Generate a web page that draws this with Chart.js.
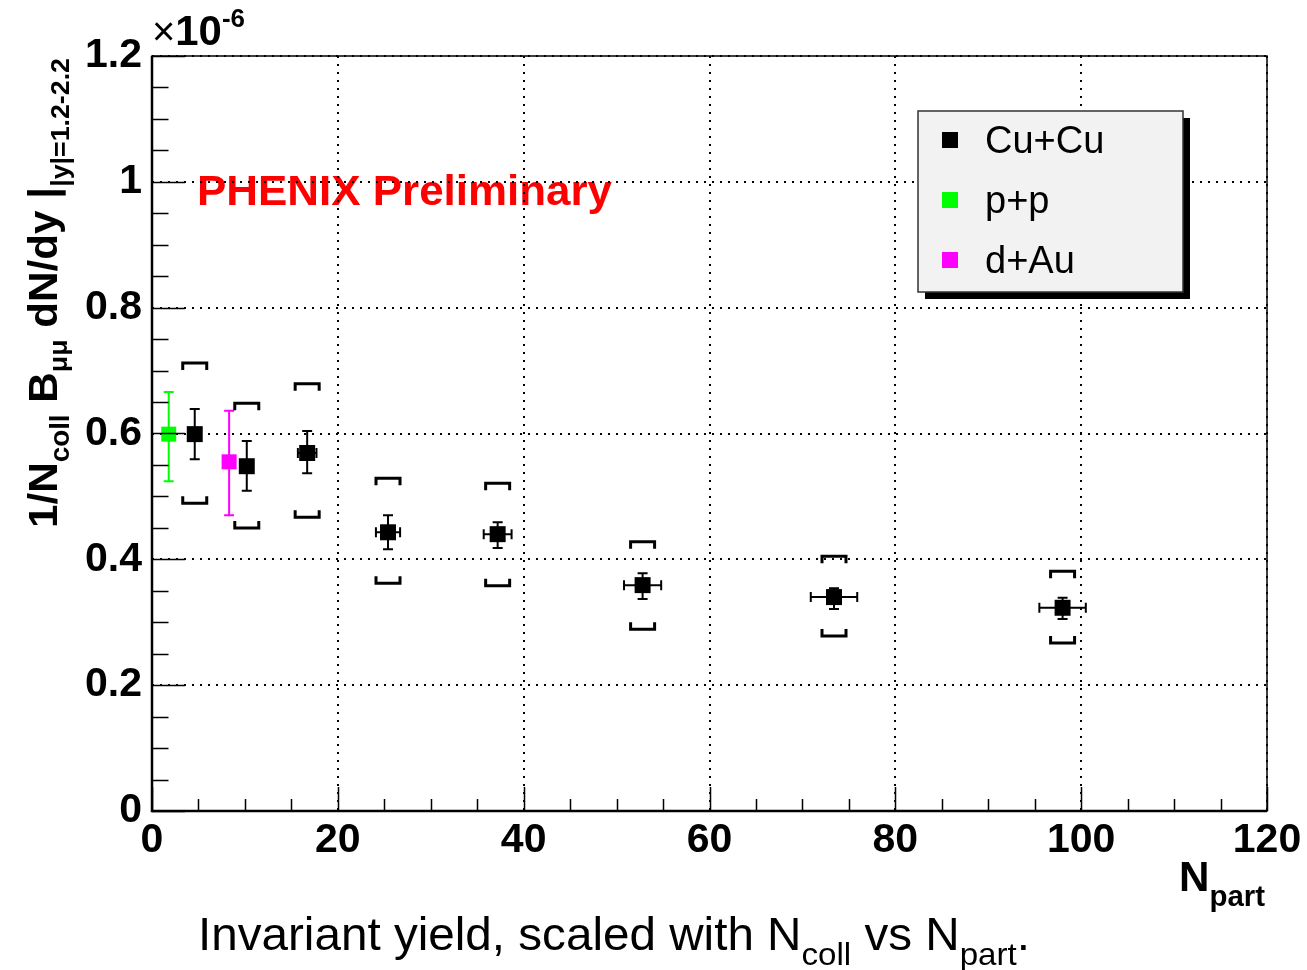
<!DOCTYPE html>
<html>
<head>
<meta charset="utf-8">
<script src="https://cdn.jsdelivr.net/npm/chart.js@4.4.1/dist/chart.umd.min.js"></script>
<style>
  body { margin: 0; background: #fff; }
  #wrap { width: 1307px; height: 970px; }
</style>
</head>
<body>
<div id="wrap"><canvas id="myChart" width="1307" height="970"></canvas></div>
<script>
// values in units of 1e-6
const cuX      = [4.6, 10.2, 16.7, 25.4, 37.2, 52.8, 73.4, 98.0];
const cuXerr   = [0.4, 0.6, 1.0, 1.3, 1.5, 2.0, 2.5, 2.5];
const cuY      = [0.599, 0.548, 0.569, 0.443, 0.440, 0.359, 0.340, 0.323];
const cuStatHi = [0.639, 0.588, 0.604, 0.470, 0.459, 0.378, 0.354, 0.339];
const cuStatLo = [0.559, 0.509, 0.537, 0.416, 0.418, 0.337, 0.321, 0.305];
const cuSysHi  = [0.712, 0.648, 0.679, 0.529, 0.521, 0.428, 0.405, 0.381];
const cuSysLo  = [0.489, 0.450, 0.467, 0.362, 0.358, 0.289, 0.278, 0.267];

const ppX = [1.8];
const ppY = [0.599];
const ppHi = [0.666];
const ppLo = [0.524];

const dauX = [8.3];
const dauY = [0.555];
const dauHi = [0.636];
const dauLo = [0.470];

const xTicks = [0, 20, 40, 60, 80, 100, 120];
const yTicks = [0, 0.2, 0.4, 0.6, 0.8, 1, 1.2];

const FONT = "'Liberation Sans', Arial, sans-serif";

function pts(xs, ys) {
    return xs.map((x, i) => ({ x: x, y: ys[i] }));
}

// draw a run of text pieces [text, font, dy] starting at x, scaled to fit a width
function drawPieces(ctx, pieces, x, y, fitWidth) {
    let total = 0;
    pieces.forEach(p => { ctx.font = p[1]; total += ctx.measureText(p[0]).width; });
    const s = fitWidth ? fitWidth / total : 1;
    ctx.save();
    ctx.translate(x, y);
    ctx.scale(s, 1);
    let cx = 0;
    pieces.forEach(p => {
        ctx.font = p[1];
        ctx.fillText(p[0], cx, p[2] || 0);
        cx += ctx.measureText(p[0]).width;
    });
    ctx.restore();
}

const refPlugin = {
    id: 'refPlugin',
    beforeDraw(chart) {
        const ctx = chart.ctx;
        ctx.save();
        ctx.fillStyle = '#fff';
        ctx.fillRect(0, 0, chart.width, chart.height);
        // PHENIX Preliminary (under the grid)
        ctx.fillStyle = '#ff0000';
        ctx.textBaseline = 'alphabetic';
        drawPieces(ctx, [['PHENIX Preliminary', 'bold 42px ' + FONT, 0]], 197, 205, 415);
        ctx.restore();
    },
    beforeDatasetsDraw(chart) {
        const ctx = chart.ctx;
        const xs = chart.scales.x, ys = chart.scales.y;
        ctx.save();
        ctx.lineWidth = 2;
        function vbar(x, hi, lo, color) {
            const px = xs.getPixelForValue(x);
            const ph = ys.getPixelForValue(hi), pl = ys.getPixelForValue(lo);
            ctx.strokeStyle = color;
            ctx.beginPath();
            ctx.moveTo(px, ph); ctx.lineTo(px, pl);
            ctx.moveTo(px - 5, ph); ctx.lineTo(px + 5, ph);
            ctx.moveTo(px - 5, pl); ctx.lineTo(px + 5, pl);
            ctx.stroke();
        }
        function hbar(x, err, y, color) {
            const pa = xs.getPixelForValue(x - err), pb = xs.getPixelForValue(x + err);
            const py = ys.getPixelForValue(y);
            ctx.strokeStyle = color;
            ctx.beginPath();
            ctx.moveTo(pa, py); ctx.lineTo(pb, py);
            ctx.moveTo(pa, py - 5); ctx.lineTo(pa, py + 5);
            ctx.moveTo(pb, py - 5); ctx.lineTo(pb, py + 5);
            ctx.stroke();
        }
        cuX.forEach((x, i) => {
            vbar(x, cuStatHi[i], cuStatLo[i], '#000');
            hbar(x, cuXerr[i], cuY[i], '#000');
        });
        ppX.forEach((x, i) => vbar(x, ppHi[i], ppLo[i], '#00ff00'));
        dauX.forEach((x, i) => vbar(x, dauHi[i], dauLo[i], '#ff00ff'));
        ctx.restore();
    },
    afterDatasetsDraw(chart) {
        const ctx = chart.ctx;
        const xs = chart.scales.x, ys = chart.scales.y;
        const a = chart.chartArea;
        ctx.save();
        // systematic brackets
        ctx.strokeStyle = '#000';
        ctx.lineWidth = 3;
        cuX.forEach((x, i) => {
            const px = xs.getPixelForValue(x);
            const ph = ys.getPixelForValue(cuSysHi[i]);
            const pl = ys.getPixelForValue(cuSysLo[i]);
            ctx.beginPath();
            ctx.moveTo(px - 12, ph + 7); ctx.lineTo(px - 12, ph); ctx.lineTo(px + 12, ph); ctx.lineTo(px + 12, ph + 7);
            ctx.moveTo(px - 12, pl - 7); ctx.lineTo(px - 12, pl); ctx.lineTo(px + 12, pl); ctx.lineTo(px + 12, pl - 7);
            ctx.stroke();
        });
        // inward ticks
        ctx.lineWidth = 1.5;
        ctx.beginPath();
        for (let v = 0; v <= 120; v += 5) {
            const px = Math.round(xs.getPixelForValue(v)) + 0.5;
            const len = v % 20 === 0 ? 24 : 12;
            ctx.moveTo(px, a.bottom); ctx.lineTo(px, a.bottom - len);
        }
        for (let k = 0; k <= 24; k++) {
            const py = Math.round(ys.getPixelForValue(k * 0.05)) + 0.5;
            const len = k % 4 === 0 ? 33 : 16.5;
            ctx.moveTo(a.left, py); ctx.lineTo(a.left + len, py);
        }
        ctx.stroke();
        // frame
        ctx.lineWidth = 1.5;
        ctx.strokeRect(a.left, a.top, a.right - a.left, a.bottom - a.top);
        ctx.lineWidth = 2.5;
        ctx.beginPath();
        ctx.moveTo(a.left, a.top); ctx.lineTo(a.left, a.bottom); ctx.lineTo(a.right, a.bottom);
        ctx.stroke();
        ctx.restore();
    },
    afterDraw(chart) {
        const ctx = chart.ctx;
        ctx.save();
        ctx.textBaseline = 'alphabetic';
        // legend box
        const lx = 918, ly = 111, lw = 265, lh = 181;
        ctx.fillStyle = '#000';
        ctx.fillRect(lx + 7, ly + 7, lw, lh);
        ctx.fillStyle = '#f2f2f2';
        ctx.fillRect(lx, ly, lw, lh);
        ctx.strokeStyle = '#333';
        ctx.lineWidth = 1.5;
        ctx.strokeRect(lx, ly, lw, lh);
        chart.data.datasets.forEach((ds, i) => {
            const cy = 140 + i * 60;
            ctx.fillStyle = ds.backgroundColor;
            ctx.fillRect(942, cy - 8, 16, 16);
            ctx.fillStyle = '#000';
            ctx.font = '38px ' + FONT;
            ctx.fillText(ds.label, 985, cy + 13);
        });
        // x10^-6
        ctx.fillStyle = '#000';
        drawPieces(ctx, [
            ['\u00d7', '40px ' + FONT, 0],
            ['10', 'bold 42px ' + FONT, 0],
            ['-6', 'bold 26px ' + FONT, -18]
        ], 152, 45, 93);
        // N_part
        drawPieces(ctx, [
            ['N', 'bold 43px ' + FONT, 0],
            ['part', 'bold 30px ' + FONT, 15]
        ], 1179, 891, 86);
        // caption
        drawPieces(ctx, [
            ['Invariant yield, scaled with N', '46px ' + FONT, 0],
            ['coll', '32px ' + FONT, 15],
            [' vs N', '46px ' + FONT, 0],
            ['part', '32px ' + FONT, 15],
            ['.', '46px ' + FONT, 0]
        ], 198, 950, 832);
        // y title, rotated
        ctx.save();
        ctx.translate(57, 528);
        ctx.rotate(-Math.PI / 2);
        drawPieces(ctx, [
            ['1/N', 'bold 41px ' + FONT, 0],
            ['coll', 'bold 27px ' + FONT, 12],
            [' B', 'bold 41px ' + FONT, 0],
            ['\u03bc\u03bc', 'bold 26px ' + FONT, 10],
            [' dN/dy ', 'bold 41px ' + FONT, 0],
            ['|', 'bold 41px ' + FONT, 0],
            ['|y|=1.2-2.2', 'bold 26px ' + FONT, 12]
        ], 0, 0, 470);
        ctx.restore();
        ctx.restore();
    }
};

const ctx = document.getElementById('myChart').getContext('2d');
new Chart(ctx, {
    type: 'scatter',
    data: {
        datasets: [
            { label: 'Cu+Cu', data: pts(cuX, cuY), pointStyle: 'rect', pointRadius: 11.3, pointHoverRadius: 11.3, backgroundColor: '#000000', borderWidth: 0 },
            { label: 'p+p', data: pts(ppX, ppY), pointStyle: 'rect', pointRadius: 10.6, pointHoverRadius: 10.6, backgroundColor: '#00ff00', borderWidth: 0 },
            { label: 'd+Au', data: pts(dauX, dauY), pointStyle: 'rect', pointRadius: 10.6, pointHoverRadius: 10.6, backgroundColor: '#ff00ff', borderWidth: 0 }
        ]
    },
    options: {
        responsive: false,
        animation: false,
        events: [],
        layout: { padding: { top: 56, right: 40, left: 0, bottom: 0 } },
        plugins: { legend: { display: false }, tooltip: { enabled: false } },
        scales: {
            x: {
                type: 'linear', min: 0, max: 120,
                afterFit: s => { s.height = 159; },
                afterBuildTicks: s => { s.ticks = xTicks.map(v => ({ value: v })); },
                ticks: { color: '#000', padding: 5, font: { family: FONT, size: 41, weight: 'bold' } },
                grid: { color: '#000', lineWidth: 2, drawTicks: false },
                border: { display: false, dash: [2, 6] }
            },
            y: {
                type: 'linear', min: 0, max: 1.2,
                afterFit: s => { s.width = 152; },
                afterBuildTicks: s => { s.ticks = yTicks.map(v => ({ value: v })); },
                ticks: {
                    color: '#000', padding: 10, font: { family: FONT, size: 41, weight: 'bold' },
                    callback: v => String(Number(v.toFixed(1)))
                },
                grid: { color: '#000', lineWidth: 2, drawTicks: false },
                border: { display: false, dash: [2, 6] }
            }
        }
    },
    plugins: [refPlugin]
});
</script>
</body>
</html>
